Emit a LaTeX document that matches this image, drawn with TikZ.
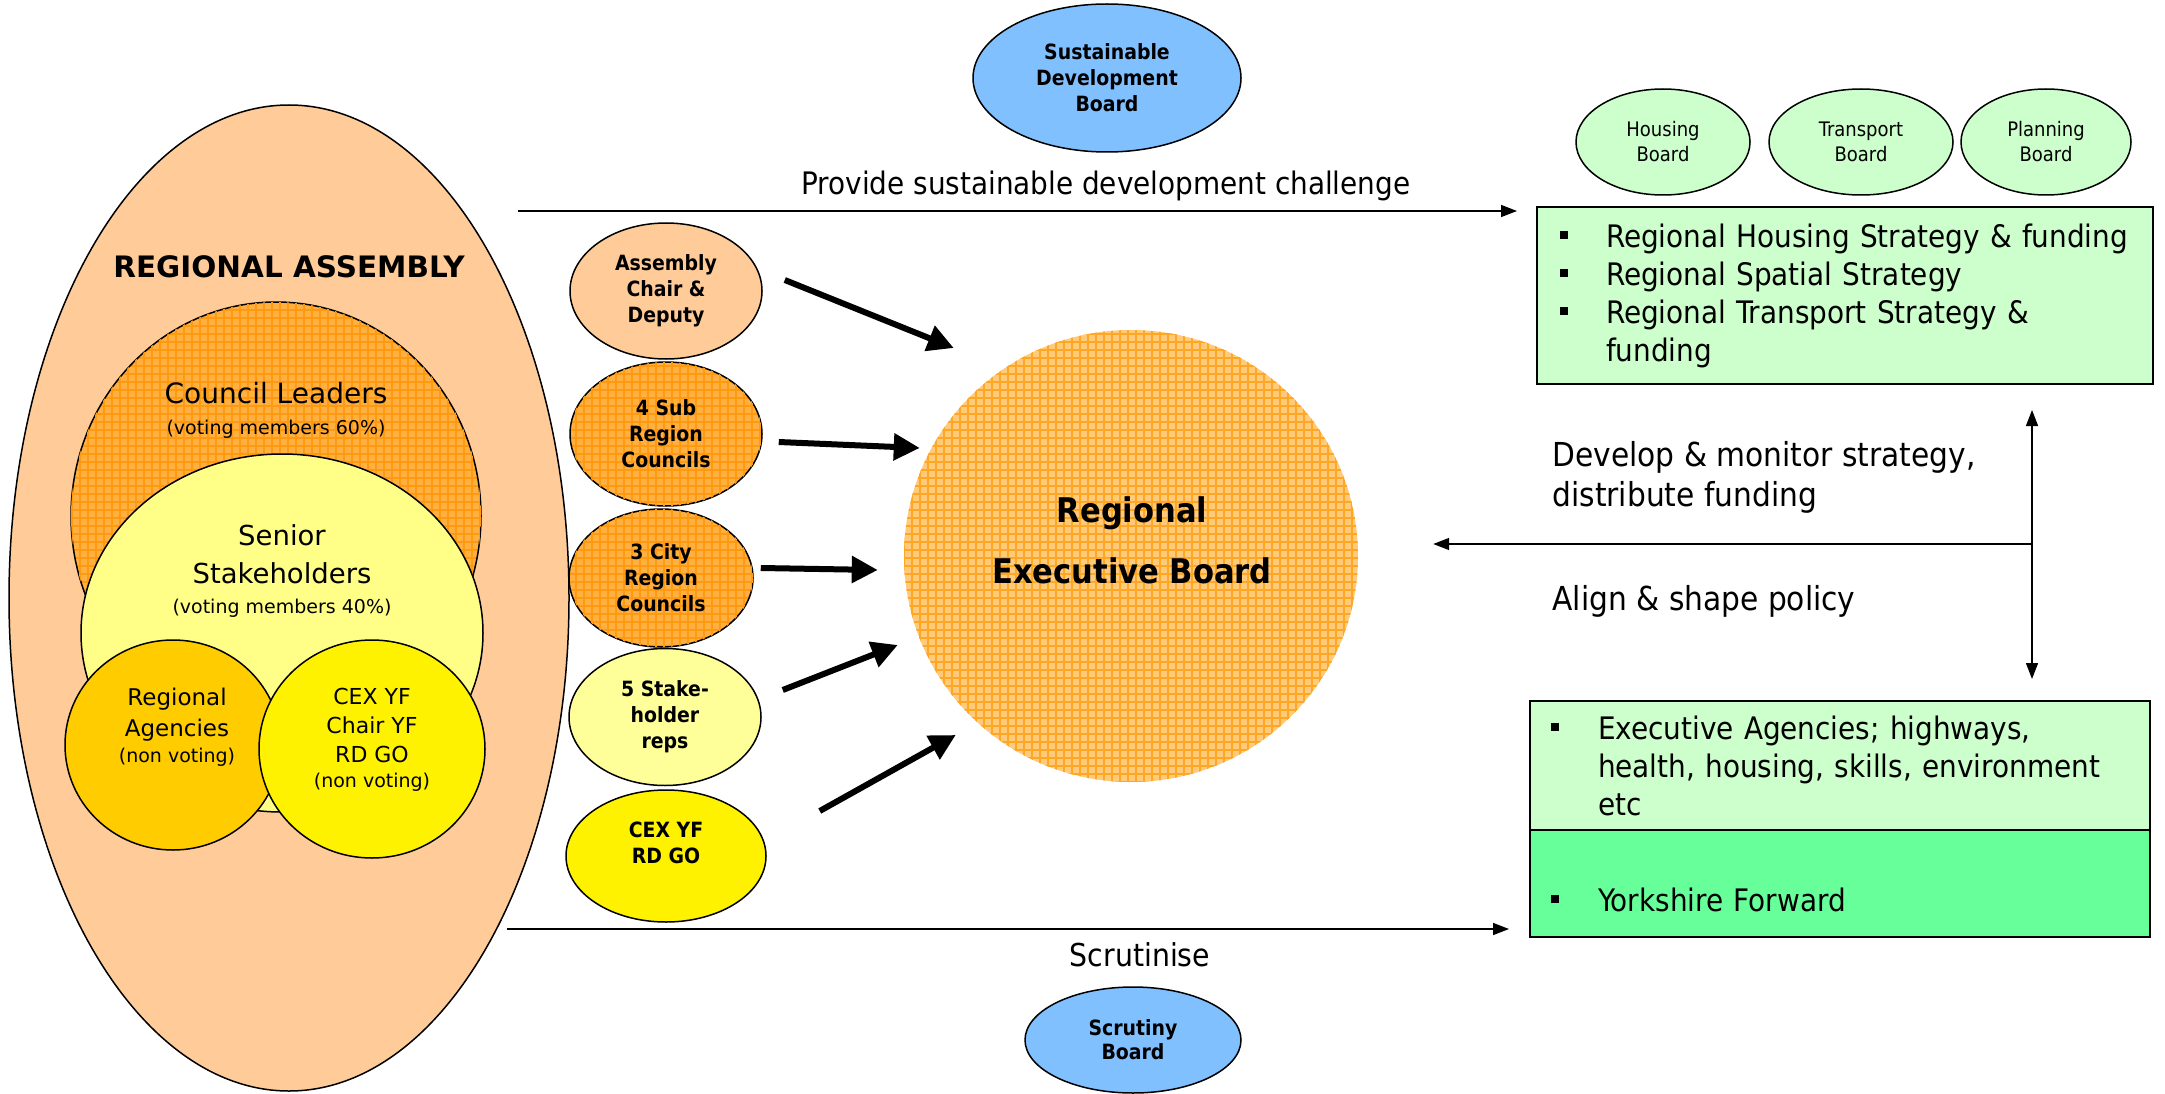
\documentclass[tikz,border=0pt]{standalone}
\usepackage{fontspec}
\setmainfont{DejaVu Sans}
\newfontfamily\narrowfont{DejaVu Sans Condensed}
\usetikzlibrary{shapes.geometric, arrows.meta, patterns.meta, positioning}

\definecolor{peach}{HTML}{FFCC99}
\definecolor{orangemid}{HTML}{FFB040}
\definecolor{orangeline}{HTML}{FF9A10}
\definecolor{orangelightmid}{HTML}{FFCA7A}
\definecolor{orangelightline}{HTML}{FFA622}
\definecolor{paleyellow}{HTML}{FFFF88}
\definecolor{creamyellow}{HTML}{FFFF99}
\definecolor{gold}{HTML}{FFCC00}
\definecolor{skyblue}{HTML}{80C0FF}
\definecolor{mint}{HTML}{CCFFCC}
\definecolor{seagreen}{HTML}{66FF99}

% square bullet with hanging indent
\newcommand{\sqitem}[2][46pt]{\hangindent=#1\hangafter=1\noindent\makebox[#1][l]{\rule[8pt]{8pt}{8pt}}#2\par}

\tikzset{
	board/.style={ellipse, draw, line width=1.5pt, inner sep=0pt, align=center},
	smallboard/.style={board, font=\narrowfont\bfseries\fontsize{21}{26}\selectfont},
	sideboard/.style={board, fill=mint, minimum height=106pt, font=\narrowfont\fontsize{20}{25}\selectfont},
	weave/.style={preaction={fill=#1mid},
		pattern={Lines[distance=8pt, angle=0, line width=2pt]}, pattern color=#1line,
		postaction={pattern={Lines[distance=8pt, angle=90, line width=2pt]}, pattern color=#1line}},
	weave/.default=orange,
	greenbox/.style={rectangle, draw, line width=1.5pt, fill=mint, outer sep=0pt, align=left,
		font=\narrowfont\fontsize{31}{38}\selectfont},
	fatarrow/.style={line width=6pt, -{Triangle[length=26pt, width=26pt]}},
	thinarrow/.style={line width=1.5pt, -{Triangle[length=16pt, width=12pt]}},
	sidetext/.style={font=\narrowfont\fontsize{33}{40}\selectfont, align=left}
}

\begin{document}
\begin{tikzpicture}[x=1pt, y=-1pt]
	\useasboundingbox (0,0) rectangle (2165,1094);
	
	% --- 1. REGIONAL ASSEMBLY ---
	\node[board, fill=peach, minimum width=560pt, minimum height=986pt] (assembly) at (289,598) {};
	\node[font=\bfseries\fontsize{29.5}{34}\selectfont] (assemblytxt) at (289,267) {REGIONAL ASSEMBLY};
	
	\node[board, weave, minimum width=410pt, minimum height=428pt] (leaders) at (276,516) {};
	\node[align=center, font=\fontsize{28}{31}\selectfont] (leaderstxt) at (276,410)
		{Council Leaders\\{\fontsize{19}{22}\selectfont (voting members 60\%)}};
	
	\node[board, fill=paleyellow, minimum width=402pt, minimum height=358pt] (senior) at (282,633) {};
	\node[align=center, font=\fontsize{27.5}{38}\selectfont] (seniortxt) at (282,571)
		{Senior\\Stakeholders\\[-8pt]{\fontsize{19}{22}\selectfont (voting members 40\%)}};
	
	\node[board, fill=gold, minimum width=216pt, minimum height=210pt] (regag) at (173,745) {};
	\node[align=center, font=\fontsize{23}{31}\selectfont] (regagtxt) at (177,727)
		{Regional\\Agencies\\[-5pt]{\fontsize{19}{22}\selectfont (non voting)}};
	
	\node[board, fill=yellow, minimum width=226pt, minimum height=218pt] (cexchair) at (372,749) {};
	\node[align=center, font=\fontsize{22}{29}\selectfont] (cexchairtxt) at (372,740)
		{CEX YF\\Chair YF\\RD GO\\[-4pt]{\fontsize{19}{22}\selectfont (non voting)}};
	
	% --- 2. MEMBER COLUMN ---
	\node[smallboard, fill=peach, minimum width=192pt, minimum height=136pt] (chair) at (666,291)
		{Assembly\\Chair \&\\Deputy};
	\node[smallboard, weave, minimum width=192pt, minimum height=144pt] (subreg) at (666,434)
		{4 Sub\\Region\\Councils};
	\node[smallboard, weave, minimum width=184pt, minimum height=138pt] (cityreg) at (661,578)
		{3 City\\Region\\Councils};
	\node[smallboard, fill=creamyellow, minimum width=192pt, minimum height=137pt] (stake) at (665,717)
		{5 Stake-\\holder\\reps};
	\node[smallboard, fill=yellow, minimum width=200pt, minimum height=132pt] (cexrd) at (666,856)
		{CEX YF\\RD GO\\~};
	
	% --- 3. REGIONAL EXECUTIVE BOARD ---
	\node[ellipse, weave=orangelight, minimum width=454pt, minimum height=452pt] (reb) at (1131,556) {};
	\node[align=center, font=\narrowfont\bfseries\fontsize{34}{61}\selectfont] (rebtxt) at (1132,540)
		{Regional\\Executive Board};
	
	% member arrows
	\draw[fatarrow] ([shift={(22,-11)}]chair.east) -- ++(169,68);
	\draw[fatarrow] ([shift={(16,8)}]subreg.east) -- ++(141,6);
	\draw[fatarrow] ([shift={(7,-10)}]cityreg.east) -- ++(117,2);
	\draw[fatarrow] ([shift={(21,-27)}]stake.east) -- ++(115,-45);
	\draw[fatarrow] ([shift={(53,-45)}]cexrd.east) -- ++(136,-76);
	
	% --- 4. SUSTAINABILITY AND SCRUTINY ---
	\node[smallboard, fill=skyblue, minimum width=268pt, minimum height=148pt] (sustain) at (1107,78)
		{Sustainable\\Development\\Board};
	\node[smallboard, fill=skyblue, font=\narrowfont\bfseries\fontsize{21}{24}\selectfont,
		minimum width=216pt, minimum height=106pt] (scrutiny) at (1133,1040) {Scrutiny\\Board};
	
	% --- 5. STRATEGY BOXES ---
	\node[sideboard, minimum width=174pt] (housing) at (1663,142) {Housing\\Board};
	\node[sideboard, minimum width=184pt] (transport) at (1861,142) {Transport\\Board};
	\node[sideboard, minimum width=170pt] (planning) at (2046,142) {Planning\\Board};
	
	\node[greenbox, anchor=north west, minimum width=616pt, minimum height=177pt,
		inner xsep=23pt, text width=570pt] (strategies) at (1537,207)
		{\sqitem{Regional Housing Strategy \& funding}
		 \sqitem{Regional Spatial Strategy}
		 \sqitem{Regional Transport Strategy \&\newline funding}};
	
	\node[greenbox, anchor=north west, minimum width=620pt, minimum height=129pt,
		inner xsep=21pt, text width=578pt] (execbox) at (1530,701)
		{\sqitem[47pt]{Executive Agencies; highways,\newline health, housing, skills, environment\newline etc}};
	\node[greenbox, fill=seagreen, below=0pt of execbox, minimum width=620pt, minimum height=107pt,
		inner xsep=21pt, text width=578pt] (yfbox)
		{\mbox{}\par\vspace*{18pt}\sqitem[47pt]{Yorkshire Forward}};
	
	% --- 6. CONNECTORS ---
	\coordinate (provstart) at (518,211);
	\coordinate (scrstart) at (507,929);
	\coordinate (hub) at (2032,544);
	
	\draw[thinarrow, shorten >=20pt] (provstart) -- (provstart -| strategies.west)
		node[pos=0.577, above=6pt, font=\narrowfont\fontsize{31}{36}\selectfont] (provtxt)
		{Provide sustainable development challenge};
	\draw[thinarrow, shorten >=21pt] (scrstart) -- (scrstart -| execbox.west);
	\node[font=\narrowfont\fontsize{31.5}{36}\selectfont] (scrtxt) at (1140,955) {Scrutinise};
	
	\draw[thinarrow, {Triangle[length=16pt, width=12pt]}-{Triangle[length=16pt, width=12pt]},
		shorten <=26pt, shorten >=22pt] (hub |- strategies.south) -- (hub |- execbox.north);
	\draw[thinarrow, shorten >=75pt] (hub) -- (hub -| reb.east);
	
	\node[sidetext, anchor=west] (developtxt) at (1549,477) {Develop \& monitor strategy,\\distribute funding};
	\node[sidetext, anchor=west] (aligntxt) at (1549,601) {Align \& shape policy};
	
\end{tikzpicture}
\end{document}
